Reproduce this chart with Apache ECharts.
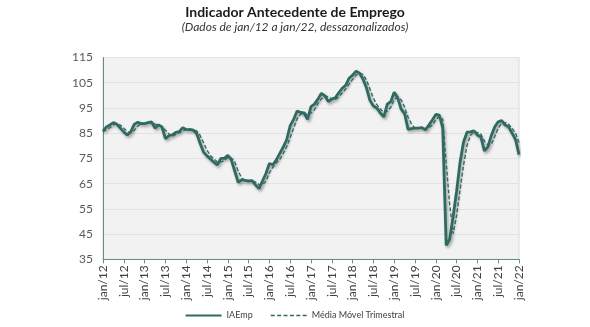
<!DOCTYPE html>
<html><head><meta charset="utf-8">
<script src="https://cdn.jsdelivr.net/npm/echarts@6/dist/echarts.min.js"></script>
<style>html,body{margin:0;padding:0;background:#fff}#c{width:590px;height:327px}</style>
</head><body><div id="c"></div>
<script>
const monthNames = ['jan','fev','mar','abr','mai','jun','jul','ago','set','out','nov','dez'];
const years = ['12','13','14','15','16','17','18','19','20','21','22'];
const yTicks = [35,45,55,65,75,85,95,105,115];

const iaemp = [
 85.8,87.5,88.3,89.2,88.5,87.0,85.5,84.3,85.5,88.5,89.3,88.8,
 88.8,89.2,89.5,87.0,88.3,87.5,82.8,84.0,84.3,85.3,85.6,87.2,
 86.5,86.4,86.2,85.0,81.0,77.5,76.0,74.8,73.5,72.4,75.0,75.0,
 76.2,74.5,70.0,65.5,66.5,66.3,66.0,66.2,64.5,63.0,66.0,69.0,
 73.0,72.5,74.4,77.0,79.5,82.5,88.0,90.5,93.8,93.2,93.0,90.5,
 95.5,96.5,98.5,100.8,99.8,97.5,98.5,99.0,101.0,102.8,104.0,106.8,
 108.0,109.6,108.8,106.5,103.0,98.0,95.8,95.0,93.0,91.5,96.5,97.5,
 101.2,99.0,94.5,92.8,86.5,86.8,87.0,87.0,87.2,86.3,88.2,90.2,
 92.4,92.2,87.0,40.5,43.0,52.0,62.0,73.5,81.5,85.4,85.5,85.9,
 84.3,83.5,78.0,79.5,84.0,87.5,89.5,90.0,88.2,87.5,85.0,82.5,
 76.5
];
const mediaMovel = [
 85.5,86.5,87.2,88.3,88.7,88.2,87.0,85.6,85.1,86.1,87.8,88.9,
 89.0,88.9,89.2,88.6,88.3,87.6,86.2,84.8,83.7,84.5,85.1,86.0,
 86.4,86.7,86.4,85.9,84.1,81.2,78.2,76.1,74.8,73.6,73.6,74.1,
 75.4,75.2,73.6,70.0,67.3,66.1,66.3,66.2,65.6,64.6,64.5,66.0,
 69.3,71.5,73.3,74.6,77.0,79.7,83.3,87.0,90.8,92.5,93.3,92.2,
 93.0,94.2,96.8,98.6,99.7,99.4,98.6,98.3,99.5,100.9,102.6,104.5,
 106.3,108.1,108.8,108.3,106.1,102.5,98.9,96.3,94.6,93.2,93.7,95.2,
 98.4,99.2,98.2,95.4,91.3,88.7,86.8,86.9,87.1,86.8,87.2,88.2,
 90.3,91.6,90.5,73.2,56.8,45.2,52.3,62.5,72.3,80.1,84.1,85.6,
 85.2,84.6,81.9,80.3,80.5,83.7,87.0,89.0,89.2,88.6,86.9,85.0,
 81.3
];

const categories = [];
for (let i = 0; i < iaemp.length; i++) {
  categories.push(monthNames[i % 12] + '/' + years[Math.floor(i / 12)]);
}

const lineColor = '#2f6a62';
const dashIcon = 'path://M0,3h4v1.6h-4z M6.4,3h4v1.6h-4z M12.8,3h4v1.6h-4z M19.2,3h4v1.6h-4z M25.6,3h4v1.6h-4z M32,3h4v1.6h-4z';
const chart = echarts.init(document.getElementById('c'));
chart.setOption({
  animation: false,
  backgroundColor: '#ffffff',
  title: [
    {text: 'Indicador Antecedente de Emprego', left: 'center', top: 0,
     textStyle: {fontFamily: 'Lato', fontWeight: 'bold', fontSize: 14, color: '#1a1a1a'}},
    {text: '(Dados de jan/12 a jan/22, dessazonalizados)', left: 'center', top: 16,
     textStyle: {fontFamily: 'Lato', fontStyle: 'italic', fontWeight: 'normal', fontSize: 12, color: '#333333'}}
  ],
  grid: {left: 103, right: 71, top: 57.5, bottom: 67.7, show: true,
         backgroundColor: '#f2f2f2', borderColor: '#d9d9d9', borderWidth: 1},
  legend: {
    bottom: 2, left: 'center', itemWidth: 36, itemHeight: 8, itemGap: 18,
    textStyle: {fontFamily: 'Lato', fontSize: 9, color: '#404040'},
    data: [
      {name: 'IAEmp', icon: 'path://M0,3 L36,3 L36,5 L0,5 Z'},
      {name: 'Média Móvel Trimestral', icon: dashIcon}
    ]
  },
  xAxis: {
    type: 'category', data: categories, boundaryGap: false,
    axisLine: {lineStyle: {color: '#5e8f89', width: 1}},
    axisTick: {interval: 5, length: 4, lineStyle: {color: '#5e8f89'}},
    axisLabel: {interval: 5, rotate: 90, fontFamily: 'Lato', fontSize: 12, color: '#404040', margin: 6},
    splitLine: {show: false}
  },
  yAxis: {
    type: 'value', min: yTicks[0], max: yTicks[yTicks.length - 1], interval: 10,
    axisLine: {show: true, lineStyle: {color: '#5e8f89', width: 1}},
    axisTick: {show: false},
    axisLabel: {fontFamily: 'Lato', fontSize: 12, color: '#595959', margin: 10},
    splitLine: {lineStyle: {color: '#e2e2e2', width: 1}}
  },
  series: [
    {name: 'IAEmp', type: 'line', data: iaemp, symbol: 'none', smooth: false,
     itemStyle: {color: lineColor},
     lineStyle: {color: lineColor, width: 2.8, shadowColor: 'rgba(0,0,0,0.35)', shadowBlur: 3, shadowOffsetX: 1.5, shadowOffsetY: 2}},
    {name: 'Média Móvel Trimestral', type: 'line', data: mediaMovel, symbol: 'none', smooth: false,
     itemStyle: {color: lineColor},
     lineStyle: {color: lineColor, width: 1.4, type: [4, 2]}}
  ]
});
</script></body></html>
